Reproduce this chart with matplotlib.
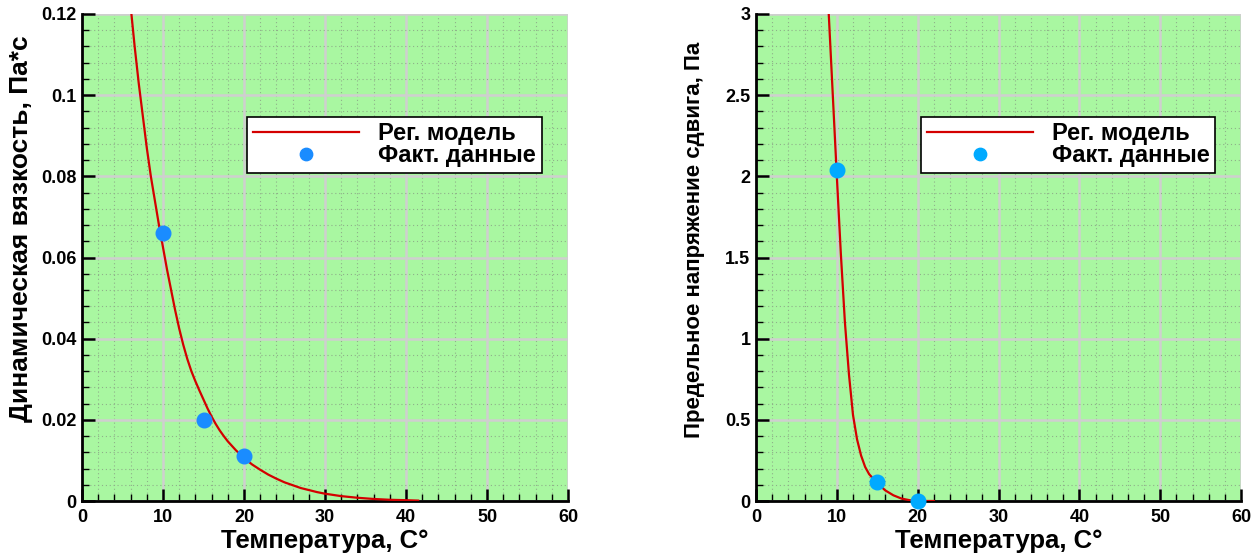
import matplotlib
matplotlib.use("Agg")
import matplotlib.pyplot as plt
from matplotlib.ticker import MultipleLocator, FuncFormatter

plt.rcParams['font.family'] = ['Liberation Sans', 'DejaVu Sans']
plt.rcParams['font.weight'] = 'bold'

# Left chart: dynamic viscosity (regression model)
visc_model_T = [6.1, 6.5, 7.0, 7.5, 8.0, 8.5, 9.0, 9.5, 10.0, 10.5, 11.0, 11.5, 12.0, 12.5,
                13.0, 13.5, 14.0, 14.5, 15.0, 15.5, 16.0, 16.5, 17.0, 17.5, 18.0, 19.0,
                20.0, 21.0, 22.0, 23.0, 24.0, 25.0, 26.0, 27.0, 28.0, 29.0, 30.0, 32.0,
                34.0, 36.0, 38.0, 40.0, 41.5]
visc_model_v = [0.120, 0.112, 0.103, 0.095, 0.087, 0.080, 0.074, 0.068, 0.0625, 0.057,
                0.052, 0.047, 0.0425, 0.0385, 0.035, 0.032, 0.0295, 0.0272, 0.025, 0.0228,
                0.0208, 0.019, 0.0174, 0.016, 0.0147, 0.0125, 0.0106, 0.009, 0.0077,
                0.0065, 0.0055, 0.0046, 0.0039, 0.0032, 0.0027, 0.0022, 0.0018, 0.0012,
                0.0008, 0.0005, 0.0003, 0.0002, 0.0001]
visc_data_T = [10, 15, 20]
visc_data_v = [0.066, 0.020, 0.011]

# Right chart: yield stress
stress_model_T = [9.0, 9.5, 10.0, 10.5, 11.0, 11.5, 12.0, 12.5, 13.0, 13.5, 14.0, 15.0,
                  16.0, 17.0, 18.0, 19.0, 20.0, 21.0, 22.0]
stress_model_v = [3.0, 2.5, 2.0, 1.52, 1.1, 0.78, 0.53, 0.38, 0.28, 0.21, 0.165, 0.11,
                  0.065, 0.035, 0.015, 0.005, 0.0, 0.0, 0.0]
stress_data_T = [10, 15, 20]
stress_data_v = [2.04, 0.12, 0.0]

x_label = "Температура, C°"
left_ylabel = "Динамическая вязкость, Па*с"
right_ylabel = "Предельное напряжение сдвига, Па"
legend_labels = ["Рег. модель", "Факт. данные"]

fig = plt.figure(figsize=(12.56, 5.59), dpi=100)
ax1 = fig.add_axes([82/1256, 58/559, 486/1256, 487/559])
ax2 = fig.add_axes([756/1256, 58/559, 485/1256, 487/559])

bg = '#a9f7a1'
fmt = FuncFormatter(lambda v, p: ('%g' % round(v, 6)))

def style(ax, ymax, ymaj, ymin, ylabel, ylsize, ylx, yly):
    ax.set_facecolor(bg)
    ax.set_xlim(0, 60)
    ax.set_ylim(0, ymax)
    ax.xaxis.set_major_locator(MultipleLocator(10))
    ax.xaxis.set_minor_locator(MultipleLocator(2))
    ax.yaxis.set_major_locator(MultipleLocator(ymaj))
    ax.yaxis.set_minor_locator(MultipleLocator(ymin))
    ax.xaxis.set_major_formatter(fmt)
    ax.yaxis.set_major_formatter(fmt)
    ax.grid(which='major', color='#cfcfcf', linewidth=1.8, linestyle='-')
    ax.grid(which='minor', color='#8fb08a', linewidth=0.8, linestyle=(0, (1, 2.5)))
    ax.set_axisbelow(True)
    for s in ['top', 'right']:
        ax.spines[s].set_visible(False)
    for s in ['left', 'bottom']:
        ax.spines[s].set_linewidth(2)
        ax.spines[s].set_color('black')
    ax.tick_params(which='major', direction='in', length=9, width=1.8, labelsize=13,
                   top=False, right=False)
    ax.tick_params(axis='y', which='major', pad=4)
    ax.tick_params(axis='x', which='major', pad=6)
    ax.tick_params(which='minor', direction='in', length=5, width=1.0, top=False, right=False)
    for lab in ax.get_xticklabels() + ax.get_yticklabels():
        lab.set_fontweight('bold')
    ax.set_xlabel(x_label, fontsize=18.5, fontweight='bold', labelpad=2)
    ax.set_ylabel(ylabel, fontsize=ylsize, fontweight='bold')
    ax.yaxis.set_label_coords(ylx, yly)

style(ax1, 0.12, 0.02, 0.004, left_ylabel, 19, -0.10, 0.56)
style(ax2, 3, 0.5, 0.1, right_ylabel, 16, -0.106, 0.536)

ax1.plot(visc_model_T, visc_model_v, color='#d40000', linewidth=1.6, label=legend_labels[0], zorder=3)
ax1.plot(visc_data_T, visc_data_v, linestyle='none', marker='o', markersize=10.5,
         color='#1a8cff', label=legend_labels[1], zorder=4, clip_on=False)
ax2.plot(stress_model_T, stress_model_v, color='#d40000', linewidth=1.6, label=legend_labels[0], zorder=3)
ax2.plot(stress_data_T, stress_data_v, linestyle='none', marker='o', markersize=10.5,
         color='#00aaff', label=legend_labels[1], zorder=4, clip_on=False)

for ax in (ax1, ax2):
    x0 = (247 - 82) / 486.0
    leg = ax.legend(loc='upper left', bbox_to_anchor=(x0, (501 - 116.5) / 487.0), fontsize=17,
                    frameon=True, fancybox=False, shadow=False, framealpha=1,
                    edgecolor='black', handlelength=4.5, handletextpad=0.8,
                    labelspacing=-0.05, borderpad=0.25, borderaxespad=0, markerscale=0.85)
    leg.get_frame().set_linewidth(1.2)
    for t in leg.get_texts():
        t.set_fontweight('bold')

fig.savefig('out.png', dpi=100)
